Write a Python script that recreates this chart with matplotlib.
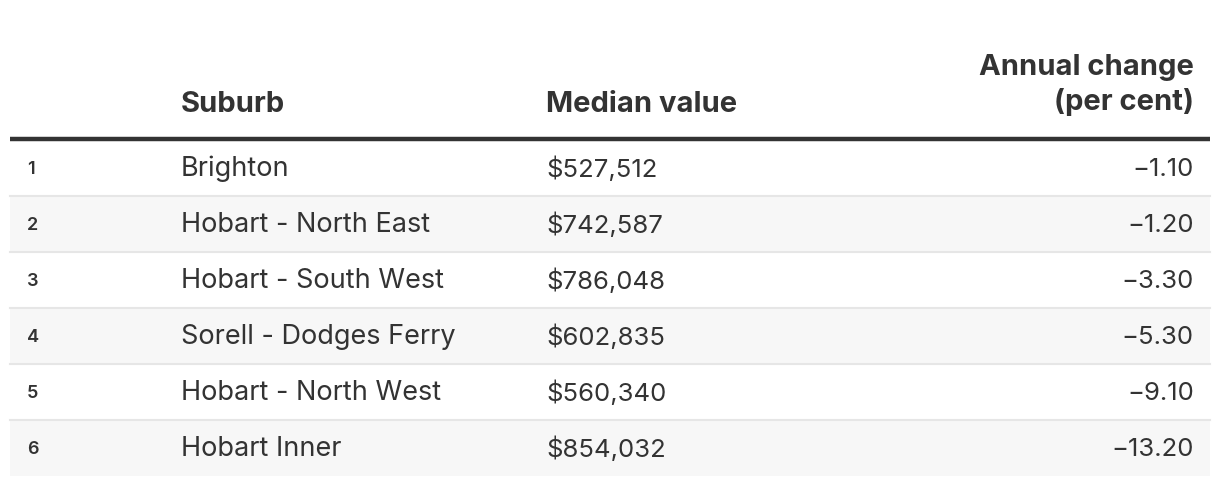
import matplotlib.pyplot as plt
from matplotlib.patches import Rectangle

ranks = [1, 2, 3, 4, 5, 6]
suburbs = ["Brighton", "Hobart - North East", "Hobart - South West",
           "Sorell - Dodges Ferry", "Hobart - North West", "Hobart Inner"]
median_values = [527512, 742587, 786048, 602835, 560340, 854032]
annual_change = [-1.10, -1.20, -3.30, -5.30, -9.10, -13.20]

headers = ["Suburb", "Median value", "Annual change\n(per cent)"]

plt.rcParams['font.family'] = ['Inter', 'DejaVu Sans']
text_color = "#333333"

fig = plt.figure(figsize=(12.2, 4.86), dpi=100)
ax = fig.add_axes([0, 0, 1, 1])
ax.set_xlim(0, 1220)
ax.set_ylim(486, 0)
ax.axis("off")

left, right = 10, 1210
top = 140
row_h = 56
body_fs = 19.5
head_fs = 21

# header
ax.text(181, 104, headers[0], fontsize=head_fs, fontweight="bold", color=text_color, va="center")
ax.text(546, 104, headers[1], fontsize=head_fs, fontweight="bold", color=text_color, va="center")
ax.text(1194, 85, headers[2], fontsize=head_fs, fontweight="bold", color=text_color,
        va="center", ha="right", linespacing=1.32)
ax.plot([left, right], [top - 1, top - 1], color="#333333", lw=3.2, solid_capstyle="butt")

for i, (r, s, m, c) in enumerate(zip(ranks, suburbs, median_values, annual_change)):
    y0 = top + i * row_h
    if i % 2 == 1:
        ax.add_patch(Rectangle((left, y0), right - left, row_h, color="#f7f7f7", lw=0))
    if i > 0:
        ax.plot([left, right], [y0, y0], color="#e6e6e6", lw=1.5)
    yc = y0 + row_h / 2 + 1
    ax.text(27, yc, str(r), fontsize=13, fontweight="semibold", color=text_color, va="center")
    ax.text(181, yc, s, fontsize=body_fs, color=text_color, va="center")
    ax.text(546, yc, f"${m:,}", fontsize=body_fs - 1, color=text_color, va="center")
    ax.text(1194, yc, f"\u2212{abs(c):.2f}", fontsize=body_fs - 1, color=text_color, va="center", ha="right")

fig.savefig("out.png", dpi=100)
